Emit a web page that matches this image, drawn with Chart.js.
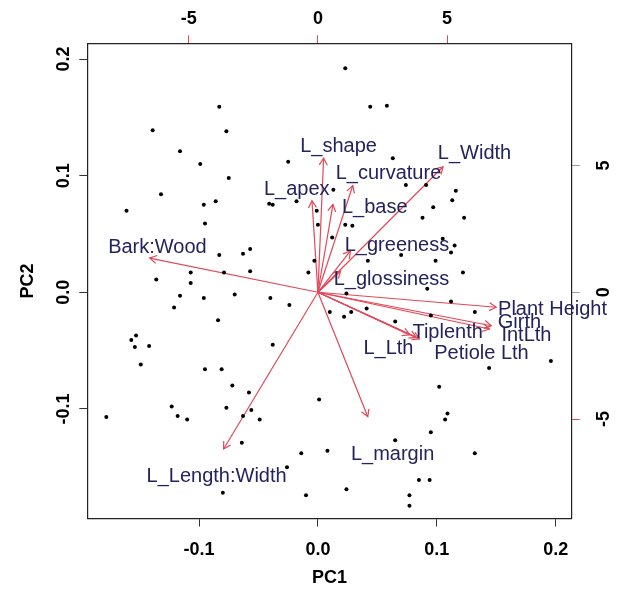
<!DOCTYPE html>
<html>
<head>
<meta charset="utf-8">
<script src="https://cdn.jsdelivr.net/npm/chart.js@4.4.1/dist/chart.umd.min.js"></script>
<style>
  html, body { margin: 0; padding: 0; background: #fff; }
  #wrap { width: 621px; height: 601px; }
</style>
</head>
<body>
<div id="wrap"><canvas id="biplot"></canvas></div>
<script>
// PC scores of the accessions
const scoreX = [-0.083, -0.139, -0.077, -0.116, -0.099, -0.025, -0.075, -0.132, -0.096, -0.086,
  -0.161, -0.041, -0.038, -0.018, -0.001, 0.000, 0.012, -0.095, -0.057, -0.063,
  -0.083, -0.003, -0.079, -0.057, -0.107, -0.136, -0.008, -0.107, -0.116, -0.096,
  -0.040, 0.013, 0.023, 0.044, 0.058, 0.063, 0.074, 0.091, 0.116, 0.113,
  0.097, 0.088, 0.123, 0.023, 0.029, 0.105, 0.115, 0.042, 0.070, 0.099,
  0.112, 0.122, 0.092, 0.024, 0.112, 0.132, 0.095, 0.010, 0.022, 0.028,
  0.041, 0.065, 0.196, 0.144, 0.102, 0.001, 0.109, 0.107, 0.095, 0.065,
  -0.014, 0.008, 0.132, 0.085, 0.094, 0.024, -0.010, 0.077, 0.077, -0.070,
  -0.024, -0.121, -0.084, -0.157, -0.153, -0.154, -0.142, -0.038, -0.149, -0.095,
  -0.081, -0.072, -0.058, -0.123, -0.077, -0.056, -0.118, -0.110, -0.063, -0.049,
  -0.178, -0.064, -0.026, -0.080];
const scoreY = [0.159, 0.139, 0.138, 0.121, 0.110, 0.112, 0.098, 0.084, 0.075, 0.078,
  0.070, 0.076, 0.075, 0.078, 0.070, 0.058, 0.047, 0.059, 0.037, 0.033,
  0.032, 0.027, 0.017, 0.018, 0.017, 0.011, 0.017, 0.008, -0.003, -0.005,
  -0.005, 0.088, 0.192, 0.159, 0.160, 0.115, 0.092, 0.092, 0.087, 0.079,
  0.073, 0.064, 0.064, 0.058, 0.057, 0.046, 0.040, 0.027, 0.032, 0.027,
  0.034, 0.017, 0.003, -0.001, -0.008, -0.017, -0.020, -0.017, -0.021, -0.017,
  -0.014, -0.025, -0.059, -0.065, -0.081, -0.092, -0.104, -0.109, -0.120, -0.127,
  -0.138, -0.136, -0.138, -0.161, -0.161, -0.169, -0.174, -0.174, -0.183, -0.002,
  -0.011, -0.013, -0.024, -0.041, -0.037, -0.047, -0.046, -0.045, -0.062, -0.066,
  -0.066, -0.080, -0.086, -0.098, -0.099, -0.101, -0.106, -0.109, -0.106, -0.109,
  -0.107, -0.129, -0.150, -0.172];

// variable loadings (top / right axis units)
const varNames = ['Bark:Wood', 'L_shape', 'L_apex', 'L_base', 'L_curvature', 'L_Width',
  'L_greeness', 'L_glossiness', 'Plant Height', 'Girth', 'IntLth', 'Tiplenth',
  'L_Lth', 'Petiole Lth', 'L_margin', 'L_Length:Width'];
const loadX = [-6.51, 0.22, -0.23, 0.58, 1.35, 4.84, 1.26, 0.88, 6.90, 6.71, 6.64, 3.81, 3.55, 3.93, 1.93, -3.65];
const loadY = [1.35, 5.29, 3.61, 3.46, 4.21, 4.95, 1.63, 0.84, -0.59, -1.32, -1.45, -1.78, -1.68, -1.84, -4.91, -6.18];
// where each variable name is written
const labelX = [-6.21, 0.80, -0.82, 2.20, 2.73, 6.06, 3.06, 2.85, 9.08, 7.80, 8.07, 5.02, 2.73, 6.33, 2.89, -3.92];
const labelY = [1.75, 5.77, 4.04, 3.36, 4.67, 5.46, 1.83, 0.52, -0.66, -1.21, -1.72, -1.57, -2.20, -2.43, -6.38, -7.25];

const pcTicks = [-0.1, 0, 0.1, 0.2];
const loadTicks = [-5, 0, 5];
const pcLim = [-0.194, 0.2135];
const ratio = 46;

const RED = 'rgb(226,72,88)';
const NAVY = '#23235e';
const tickFont = { family: 'Liberation Sans, Arial, sans-serif', size: 18, weight: 'bold' };

const datasets = [{
  label: 'scores',
  data: scoreX.map((x, i) => ({ x, y: scoreY[i] })),
  xAxisID: 'x', yAxisID: 'y',
  pointRadius: 2, pointBackgroundColor: '#000', pointBorderWidth: 0
}];
varNames.forEach((name, i) => {
  datasets.push({
    label: name,
    data: [{ x: 0, y: 0 }, { x: loadX[i], y: loadY[i] }],
    xAxisID: 'x2', yAxisID: 'y2',
    showLine: true, borderColor: RED, borderWidth: 1.2,
    pointRadius: 0
  });
});

// arrow heads + variable names
const arrowPlugin = {
  id: 'arrows',
  afterDatasetsDraw(chart) {
    const { ctx } = chart;
    const sx = chart.scales.x2, sy = chart.scales.y2;
    const x0 = sx.getPixelForValue(0), y0 = sy.getPixelForValue(0);
    ctx.save();
    ctx.strokeStyle = RED;
    ctx.lineWidth = 1.2;
    varNames.forEach((name, i) => {
      const x1 = sx.getPixelForValue(loadX[i]), y1 = sy.getPixelForValue(loadY[i]);
      const a = Math.atan2(y1 - y0, x1 - x0);
      const len = 8, spread = Math.PI / 6;
      ctx.beginPath();
      ctx.moveTo(x1 - len * Math.cos(a - spread), y1 - len * Math.sin(a - spread));
      ctx.lineTo(x1, y1);
      ctx.lineTo(x1 - len * Math.cos(a + spread), y1 - len * Math.sin(a + spread));
      ctx.stroke();
    });
    ctx.fillStyle = NAVY;
    ctx.font = '20px "Liberation Sans", Arial, sans-serif';
    ctx.textAlign = 'center';
    ctx.textBaseline = 'middle';
    varNames.forEach((name, i) => {
      ctx.fillText(name, sx.getPixelForValue(labelX[i]), sy.getPixelForValue(labelY[i]));
    });
    ctx.restore();
  }
};

function fixed(size, horiz) {
  return s => { if (horiz) s.height = size; else s.width = size; };
}

new Chart(document.getElementById('biplot'), {
  type: 'scatter',
  data: { datasets },
  options: {
    responsive: true,
    maintainAspectRatio: false,
    animation: false,
    layout: { padding: 0 },
    plugins: { legend: { display: false }, tooltip: { enabled: false } },
    scales: {
      x: {
        position: 'bottom', min: pcLim[0], max: pcLim[1],
        afterBuildTicks: s => { s.ticks = pcTicks.map(v => ({ value: v })); },
        afterFit: fixed(82.5, true),
        ticks: { font: tickFont, color: '#000', padding: 13, maxRotation: 0,
          callback: v => v.toFixed(1) },
        grid: { drawOnChartArea: false, tickLength: 8, tickColor: '#333' },
        border: { color: '#222', width: 1.2 },
        title: { display: true, text: 'PC1', font: tickFont, color: '#000', padding: { top: 0, bottom: 12 } }
      },
      y: {
        position: 'left', min: pcLim[0], max: pcLim[1],
        afterBuildTicks: s => { s.ticks = pcTicks.map(v => ({ value: v })); },
        afterFit: fixed(87.3, false),
        ticks: { font: tickFont, color: '#000', padding: 0, minRotation: 90, maxRotation: 90,
          crossAlign: 'center', callback: v => v.toFixed(1) },
        grid: { drawOnChartArea: false, tickLength: 8, tickColor: '#333' },
        border: { color: '#222', width: 1.2 },
        title: { display: true, text: 'PC2', font: tickFont, color: '#000', padding: { top: 17, bottom: 0 } }
      },
      x2: {
        position: 'top', min: pcLim[0] * ratio, max: pcLim[1] * ratio,
        afterBuildTicks: s => { s.ticks = loadTicks.map(v => ({ value: v })); },
        afterFit: fixed(43.3, true),
        ticks: { font: tickFont, color: '#000', padding: 5, maxRotation: 0, callback: v => String(v) },
        grid: { drawOnChartArea: false, tickLength: 8, tickColor: RED },
        border: { color: '#222', width: 1.2 }
      },
      y2: {
        position: 'right', min: pcLim[0] * ratio, max: pcLim[1] * ratio,
        afterBuildTicks: s => { s.ticks = loadTicks.map(v => ({ value: v })); },
        afterFit: fixed(49.3, false),
        ticks: { font: tickFont, color: '#000', padding: 16, minRotation: 90, maxRotation: 90,
          crossAlign: 'center', callback: v => String(v) },
        grid: { drawOnChartArea: false, tickLength: 8,
          tickColor: c => (c.tick && c.tick.value < 0 ? RED : '#999') },
        border: { color: '#222', width: 1.2 }
      }
    }
  },
  plugins: [arrowPlugin]
});
</script>
</body>
</html>
